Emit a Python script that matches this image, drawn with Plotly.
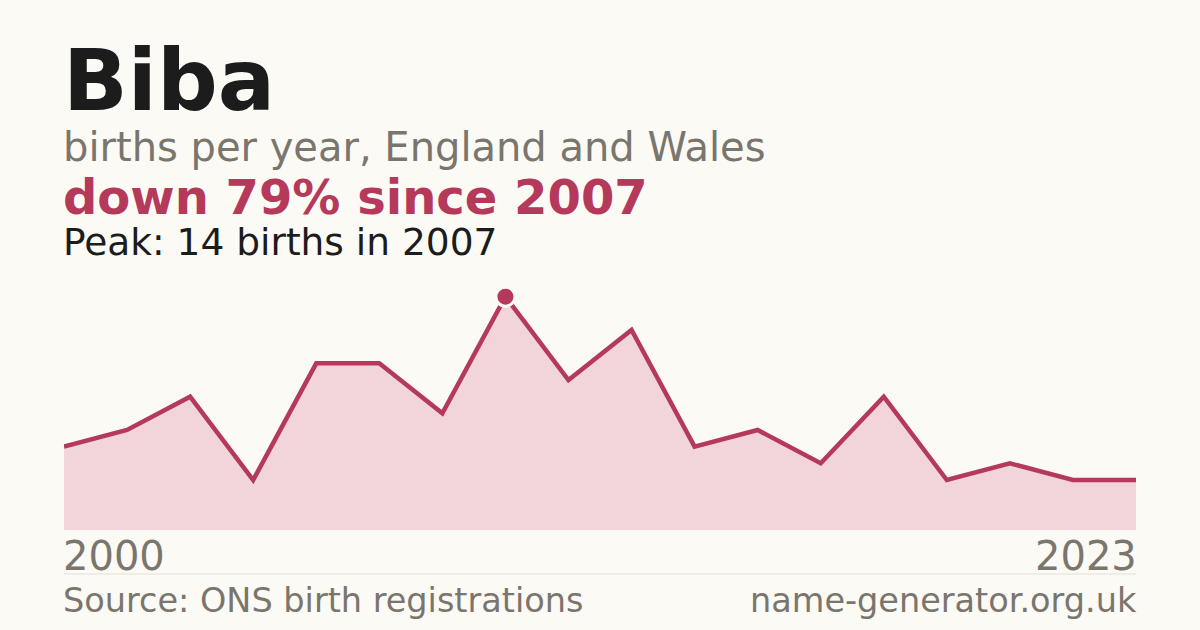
import plotly.graph_objects as go

# births of the name Biba per year (years with suppressed counts are left out)
years = [2000, 2001, 2002, 2003, 2004, 2005, 2006, 2007, 2009, 2010,
         2012, 2013, 2015, 2016, 2018, 2019, 2021, 2023]
births = [5, 6, 8, 3, 10, 10, 7, 14, 9, 12, 5, 6, 4, 8, 3, 4, 3, 3]

name = "Biba"
subtitle = "births per year, England and Wales"
source = "Source: ONS birth registrations"
site = "name-generator.org.uk"

peak = max(births)
peak_year = years[births.index(peak)]
change = round((births[-1] - peak) / peak * 100)

BG = "#fbfaf5"
RED = "#b5395a"
GREY = "#7a756d"
FONT = "DejaVu Sans"

W, H = 1200, 630
L, R, T, B = 64, 64, 280, 100


def py(pix):
    # pixel row -> paper y
    return (H - B - pix) / (H - T - B)


cats = [str(y) for y in years]

fig = go.Figure()
fig.add_trace(go.Scatter(
    x=cats, y=births,
    mode="lines",
    line=dict(color=RED, width=4.5),
    fill="tozeroy",
    fillcolor="#f2d5db",
    hoverinfo="skip",
))
fig.add_trace(go.Scatter(
    x=[str(peak_year)], y=[peak],
    mode="markers",
    marker=dict(size=19, color=RED, line=dict(color=BG, width=3)),
    hoverinfo="skip",
))

ann = [
    dict(text="<b>%s</b>" % name, y=py(80), size=85, color="#1c1c1c"),
    dict(text=subtitle, y=py(147), size=40, color=GREY),
    dict(text="<b>down %d%% since %d</b>" % (-change, peak_year), y=py(197), size=48, color=RED),
    dict(text="Peak: %d births in %d" % (peak, peak_year), y=py(242), size=37.5, color="#1c1c1c"),
    dict(text=source, y=py(600), size=33.5, color=GREY),
]
for a in ann:
    fig.add_annotation(
        text=a["text"], xref="paper", yref="paper", x=0, y=a["y"], xshift=-3,
        xanchor="left", yanchor="middle", showarrow=False,
        font=dict(family=FONT, size=a["size"], color=a["color"]),
    )
fig.add_annotation(
    text=site, xref="paper", yref="paper", x=1, y=py(600), xshift=3,
    xanchor="right", yanchor="middle", showarrow=False,
    font=dict(family=FONT, size=33.5, color=GREY),
)
fig.add_annotation(
    text=cats[0], xref="paper", yref="paper", x=0, y=py(556), xshift=-3,
    xanchor="left", yanchor="middle", showarrow=False,
    font=dict(family=FONT, size=40, color=GREY),
)
fig.add_annotation(
    text=cats[-1], xref="paper", yref="paper", x=1, y=py(556), xshift=3,
    xanchor="right", yanchor="middle", showarrow=False,
    font=dict(family=FONT, size=40, color=GREY),
)

fig.add_shape(type="line", xref="paper", yref="paper",
              x0=0, x1=1, y0=py(574), y1=py(574),
              line=dict(color="#e2dfd7", width=1))

fig.update_layout(
    width=W, height=H,
    margin=dict(l=L, r=R, t=T, b=B),
    paper_bgcolor=BG, plot_bgcolor=BG,
    showlegend=False,
    xaxis=dict(type="category", range=[0, len(cats) - 1], visible=False),
    yaxis=dict(range=[0, 15], visible=False),
)

fig.write_html("out.html", config={"displayModeBar": False},
               post_script="document.body.style.margin='0';")
